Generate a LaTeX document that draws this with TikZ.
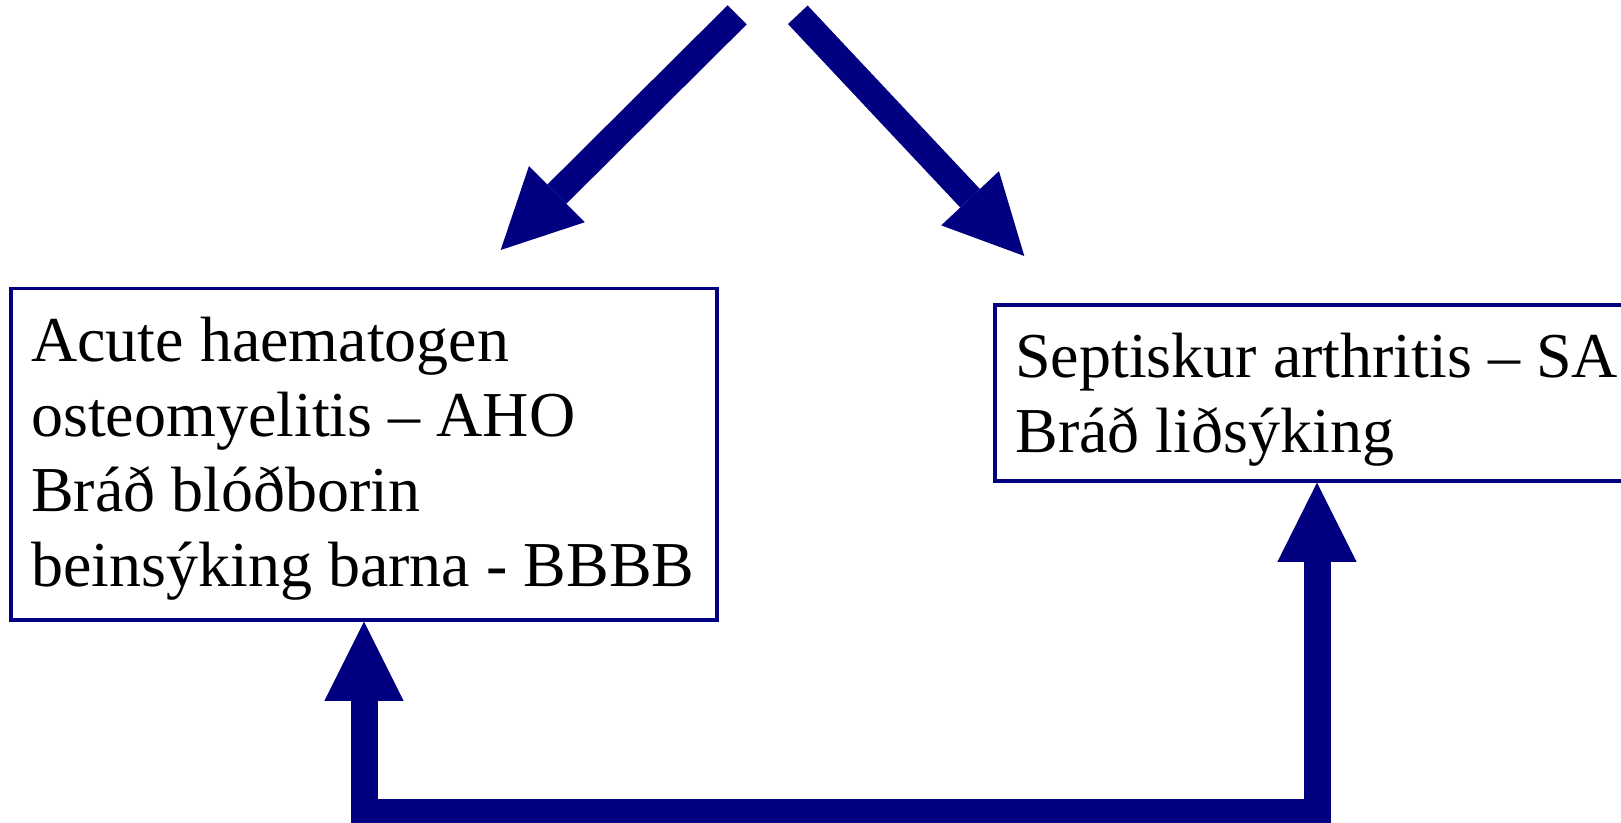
\documentclass[tikz,border=0pt]{standalone}
\usepackage{fontspec}
\setmainfont{Liberation Serif}
\usetikzlibrary{arrows.meta}
\definecolor{infnavy}{RGB}{0,0,128}

\begin{document}
\begin{tikzpicture}[x=0.5pt, y=-0.5pt,
    dxbox/.style={draw=infnavy, line width=1.7pt, inner sep=0pt},
    dxtext/.style={anchor=north west, inner sep=0pt, align=left,
                   font=\fontsize{32pt}{37.5pt}\selectfont},
    fathead/.style={Triangle[length=39.6pt, width=39.6pt, line width=0pt]},
    bigarr/.style={color=infnavy, line width=13.5pt, -{Triangle[length=39.6pt, width=39.6pt, line width=0pt]}},
    bigboth/.style={color=infnavy, line width=13.5pt,
                    {Triangle[length=39.6pt, width=39.6pt, line width=0pt]}-{Triangle[length=39.6pt, width=39.6pt, line width=0pt]}}
  ]
    \useasboundingbox (0,0) rectangle (1621,823);
    \clip (0,0) rectangle (1621,823);

    %% Box 1: AHO
    \node[dxbox, minimum width=353pt, minimum height=165.6pt] (aho) at (364,454.4) {};
    \node[dxtext] (ahotext) at ([xshift=10.8pt, yshift=-14.9pt]aho.north west)
      {Acute haematogen\\osteomyelitis -- AHO\\Bráð blóðborin\\beinsýking barna - BBBB};

    %% Box 2: SA
    \node[dxbox, minimum width=322pt, minimum height=88pt] (sa) at (1317,393) {};
    \node[dxtext] (satext) at ([xshift=10.8pt, yshift=-14.9pt]sa.north west)
      {Septiskur arthritis -- SA\\Bráð liðsýking};

    %% Arrows from above
    \coordinate (srcL) at (737.2,14.8);
    \coordinate (tipL) at (500.7,250);
    \coordinate (srcR) at (797.8,14.8);
    \coordinate (tipR) at (1024.3,256);
    \draw[bigarr] (srcL) -- (tipL);
    \draw[bigarr] (srcR) -- (tipR);

    %% Link between the boxes
    \coordinate (lowrun) at (0,812.7);
    \draw[bigboth] (sa.south) -- (sa.south |- lowrun) -- (aho.south |- lowrun) -- (aho.south);
  \end{tikzpicture}
\end{document}
